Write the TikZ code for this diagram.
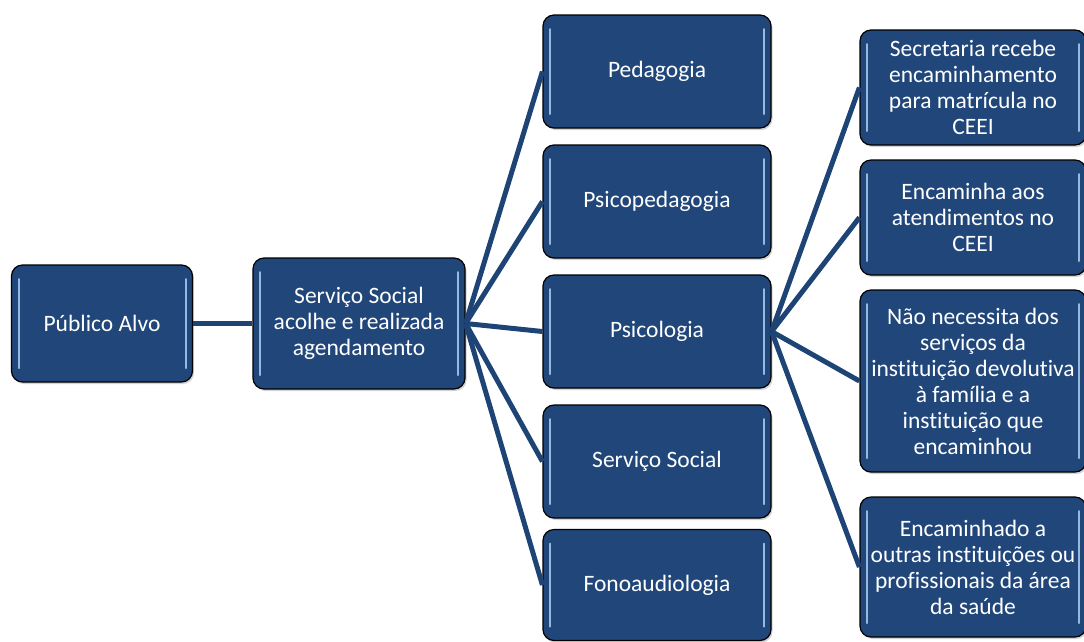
\documentclass[tikz,border=0pt]{standalone}
\usepackage{fontspec}
\setmainfont{Carlito}[Ligatures={NoCommon}]
\usepackage{tikz}
\usetikzlibrary{shadows}
\definecolor{boxblue}{RGB}{33,71,122}
\definecolor{edgeblue}{RGB}{30,68,118}
\definecolor{shine}{RGB}{150,185,225}
\tikzset{
  bx/.style={draw=black, line width=1.2pt, rounded corners=11pt, fill=boxblue,
    text=white, align=center, font=\fontsize{23.5}{26}\selectfont,
    drop shadow={shadow xshift=1.5pt, shadow yshift=-2pt, opacity=.35},
    path picture={
      \draw[shine, line width=2pt, line cap=round]
        ([xshift=7pt,yshift=-14pt]path picture bounding box.north west) --
        ([xshift=7pt,yshift=14pt]path picture bounding box.south west);
      \draw[shine, line width=2pt, line cap=round]
        ([xshift=-7pt,yshift=-14pt]path picture bounding box.north east) --
        ([xshift=-7pt,yshift=14pt]path picture bounding box.south east);
    }},
  ln/.style={draw=edgeblue, line width=5pt}
}
\begin{document}
\begin{tikzpicture}[x=1pt, y=-1pt]
\useasboundingbox (0,0) rectangle (1084,641);
\begin{scope}
\tikzstyle{every node}=[bx] %%
\node[minimum width=181pt, minimum height=117pt] (s0) at (102,323.5) {Público Alvo}; %%
\node[minimum width=212pt, minimum height=131pt] (s1) at (359,323.5) {Serviço Social\\acolhe e realizada\\agendamento}; %%
\node[minimum width=228pt, minimum height=113pt] (p1) at (657,71.5)  {Pedagogia}; %%
\node[minimum width=228pt, minimum height=113pt] (p2) at (657,201.5) {Psicopedagogia}; %%
\node[minimum width=228pt, minimum height=113pt] (p3) at (657,331.5) {Psicologia}; %%
\node[minimum width=228pt, minimum height=113pt] (p4) at (657,461.5) {Serviço Social}; %%
\node[minimum width=228pt, minimum height=111pt] (p5) at (657,585)   {Fonoaudiologia}; %%
\node[minimum width=226pt, minimum height=115pt] (r1) at (973,87.5)  {Secretaria recebe\\encaminhamento\\para matrícula no\\CEEI}; %%
\node[minimum width=226pt, minimum height=115pt] (r2) at (973,217.5) {Encaminha aos\\atendimentos no\\CEEI}; %%
\node[minimum width=226pt, minimum height=182pt] (r3) at (973,381)   {Não necessita dos\\serviços da\\instituição devolutiva\\à família e a\\instituição que\\encaminhou}; %%
\node[minimum width=226pt, minimum height=140pt] (r4) at (973,567)   {Encaminhado a\\outras instituições ou\\profissionais da área\\da saúde};
\end{scope}
\draw[ln] (s0.east)--(s1.west); %%
\foreach \t in {p1,p2,p3,p4,p5}
  \draw[ln] (s1.east)--(\t.west); %%
\foreach \t in {r1,r2,r3,r4}
  \draw[ln] (p3.east)--(\t.west); %%
\end{tikzpicture}
\end{document}
